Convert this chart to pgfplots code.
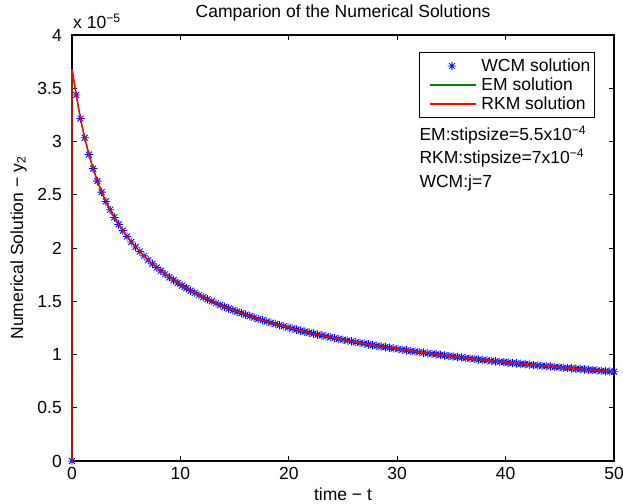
\documentclass[border=0pt]{standalone}
\usepackage{fontspec}
\setmainfont{Liberation Sans}
\usepackage{pgfplots}
\pgfplotsset{compat=1.18}
\usepackage{pgfplotstable}

\pgfdeclareplotmark{mstar}{%
 \pgfpathmoveto{\pgfqpoint{-\pgfplotmarksize}{0pt}}\pgfpathlineto{\pgfqpoint{\pgfplotmarksize}{0pt}}%
 \pgfpathmoveto{\pgfqpoint{0pt}{-\pgfplotmarksize}}\pgfpathlineto{\pgfqpoint{0pt}{\pgfplotmarksize}}%
 \pgfpathmoveto{\pgfqpoint{-0.7071\pgfplotmarksize}{-0.7071\pgfplotmarksize}}\pgfpathlineto{\pgfqpoint{0.7071\pgfplotmarksize}{0.7071\pgfplotmarksize}}%
 \pgfpathmoveto{\pgfqpoint{-0.7071\pgfplotmarksize}{0.7071\pgfplotmarksize}}\pgfpathlineto{\pgfqpoint{0.7071\pgfplotmarksize}{-0.7071\pgfplotmarksize}}%
 \pgfusepathqstroke}

\pgfplotsset{
  lineleg/.style={legend image code/.code={\path[draw=none,fill=none] (0pt,0pt) (52pt,0pt); \draw[##1, line width=1.2pt] (6pt,0pt) -- (52pt,0pt);}},
  markleg/.style={legend image code/.code={\path[draw=none,fill=none] (0pt,0pt) (52pt,0pt); \draw[##1] plot coordinates {(28pt,0pt)};}},
}

\pgfplotstableread{
t y
0 0
0.390625 3.437
0.78125 3.215
1.171875 3.035
1.5625 2.877
1.953125 2.745
2.34375 2.628
2.734375 2.525
3.125 2.437
3.515625 2.359
3.90625 2.287
4.296875 2.222
4.6875 2.163
5.078125 2.108
5.46875 2.057
5.859375 2.010
6.25 1.967
6.640625 1.926
7.03125 1.887
7.421875 1.851
7.8125 1.817
8.203125 1.785
8.59375 1.754
8.984375 1.725
9.375 1.698
9.765625 1.672
10.15625 1.647
10.546875 1.623
10.9375 1.600
11.328125 1.579
11.71875 1.558
12.109375 1.538
12.5 1.519
12.890625 1.500
13.28125 1.482
13.671875 1.465
14.0625 1.448
14.453125 1.432
14.84375 1.417
15.234375 1.402
15.625 1.388
16.015625 1.374
16.40625 1.360
16.796875 1.347
17.1875 1.334
17.578125 1.322
17.96875 1.310
18.359375 1.298
18.75 1.287
19.140625 1.275
19.53125 1.265
19.921875 1.254
20.3125 1.244
20.703125 1.234
21.09375 1.224
21.484375 1.215
21.875 1.205
22.265625 1.196
22.65625 1.187
23.046875 1.179
23.4375 1.170
23.828125 1.162
24.21875 1.154
24.609375 1.146
25 1.138
25.390625 1.131
25.78125 1.123
26.171875 1.116
26.5625 1.109
26.953125 1.102
27.34375 1.095
27.734375 1.088
28.125 1.082
28.515625 1.075
28.90625 1.069
29.296875 1.063
29.6875 1.057
30.078125 1.051
30.46875 1.045
30.859375 1.039
31.25 1.033
31.640625 1.028
32.03125 1.022
32.421875 1.017
32.8125 1.011
33.203125 1.006
33.59375 1.001
33.984375 0.996
34.375 0.991
34.765625 0.986
35.15625 0.981
35.546875 0.976
35.9375 0.972
36.328125 0.967
36.71875 0.962
37.109375 0.958
37.5 0.953
37.890625 0.949
38.28125 0.945
38.671875 0.940
39.0625 0.936
39.453125 0.932
39.84375 0.928
40.234375 0.924
40.625 0.920
41.015625 0.916
41.40625 0.912
41.796875 0.909
42.1875 0.905
42.578125 0.901
42.96875 0.897
43.359375 0.894
43.75 0.890
44.140625 0.887
44.53125 0.883
44.921875 0.880
45.3125 0.876
45.703125 0.873
46.09375 0.870
46.484375 0.866
46.875 0.863
47.265625 0.860
47.65625 0.857
48.046875 0.854
48.4375 0.851
48.828125 0.847
49.21875 0.844
49.609375 0.841
50 0.838
}\wcm

\pgfplotstableread{
t y
0 0
0 3.68
0.390625 3.437
0.78125 3.215
1.171875 3.035
1.5625 2.877
1.953125 2.745
2.34375 2.628
2.734375 2.525
3.125 2.437
3.515625 2.359
3.90625 2.287
4.296875 2.222
4.6875 2.163
5.078125 2.108
5.46875 2.057
5.859375 2.010
6.25 1.967
6.640625 1.926
7.03125 1.887
7.421875 1.851
7.8125 1.817
8.203125 1.785
8.59375 1.754
8.984375 1.725
9.375 1.698
9.765625 1.672
10.15625 1.647
10.546875 1.623
10.9375 1.600
11.328125 1.579
11.71875 1.558
12.109375 1.538
12.5 1.519
12.890625 1.500
13.28125 1.482
13.671875 1.465
14.0625 1.448
14.453125 1.432
14.84375 1.417
15.234375 1.402
15.625 1.388
16.015625 1.374
16.40625 1.360
16.796875 1.347
17.1875 1.334
17.578125 1.322
17.96875 1.310
18.359375 1.298
18.75 1.287
19.140625 1.275
19.53125 1.265
19.921875 1.254
20.3125 1.244
20.703125 1.234
21.09375 1.224
21.484375 1.215
21.875 1.205
22.265625 1.196
22.65625 1.187
23.046875 1.179
23.4375 1.170
23.828125 1.162
24.21875 1.154
24.609375 1.146
25 1.138
25.390625 1.131
25.78125 1.123
26.171875 1.116
26.5625 1.109
26.953125 1.102
27.34375 1.095
27.734375 1.088
28.125 1.082
28.515625 1.075
28.90625 1.069
29.296875 1.063
29.6875 1.057
30.078125 1.051
30.46875 1.045
30.859375 1.039
31.25 1.033
31.640625 1.028
32.03125 1.022
32.421875 1.017
32.8125 1.011
33.203125 1.006
33.59375 1.001
33.984375 0.996
34.375 0.991
34.765625 0.986
35.15625 0.981
35.546875 0.976
35.9375 0.972
36.328125 0.967
36.71875 0.962
37.109375 0.958
37.5 0.953
37.890625 0.949
38.28125 0.945
38.671875 0.940
39.0625 0.936
39.453125 0.932
39.84375 0.928
40.234375 0.924
40.625 0.920
41.015625 0.916
41.40625 0.912
41.796875 0.909
42.1875 0.905
42.578125 0.901
42.96875 0.897
43.359375 0.894
43.75 0.890
44.140625 0.887
44.53125 0.883
44.921875 0.880
45.3125 0.876
45.703125 0.873
46.09375 0.870
46.484375 0.866
46.875 0.863
47.265625 0.860
47.65625 0.857
48.046875 0.854
48.4375 0.851
48.828125 0.847
49.21875 0.844
49.609375 0.841
50 0.838
}\lines

\begin{document}
\fontsize{17.5}{21}\selectfont
\begin{tikzpicture}
\begin{axis}[
  name=ax,
  scale only axis,
  width=542pt, height=426pt,
  xmin=0, xmax=50, ymin=0, ymax=4,
  xtick={0,10,...,50},
  ytick={0,0.5,...,4},
  tick align=inside,
  major tick length=5pt,
  axis line style={line width=1.1pt},
  major tick style={line width=0.9pt, black},
  clip=false,
  clip marker paths=true,
  /pgf/number format/assume math mode=true,
  every tick label/.append style={font=\fontsize{17.5}{21}\selectfont},
  xticklabel style={anchor=north, inner sep=0pt, yshift=-6pt},
  yticklabel style={anchor=east, inner sep=0pt, xshift=-10pt},
  title={Camparion of the Numerical Solutions},
  title style={at={(rel axis cs:0.5,1)}, anchor=base, yshift=11.5pt, inner sep=0pt, font=\fontsize{17.5}{21}\selectfont},
  xlabel={time − t},
  xlabel style={at={(rel axis cs:0.5,0)}, anchor=base, yshift=-39pt, inner sep=0pt, font=\fontsize{17.5}{21}\selectfont},
  legend style={at={(rel axis cs:0.6409,0.9601)}, anchor=north west, draw=black, line width=1pt,
    inner xsep=4pt, inner ysep=4pt, row sep=0pt,
    font=\fontsize{17.5}{21}\selectfont,
    nodes={inner sep=0pt, text height=15pt, text depth=4pt},
    /tikz/every odd column/.append style={column sep=5pt}},
  legend cell align=left,
]
\addplot[only marks, mark=mstar, mark size=4.2pt, color=blue, mark options={line width=0.85pt}, markleg]
  table[x=t, y=y] {\wcm};
\addlegendentry{WCM solution}
\addplot[color={rgb,1:red,0;green,0.5;blue,0}, line width=1.3pt, no marks, lineleg]
  table[x=t, y=y] {\lines};
\addlegendentry{EM solution}
\addplot[color=red, line width=1.3pt, no marks, lineleg]
  table[x=t, y=y] {\lines};
\addlegendentry{RKM solution}
\node[anchor=base west, inner sep=0pt] at (rel axis cs:0,1) [yshift=6.7pt, xshift=1pt] {x 10\textsuperscript{−5}};
\node[anchor=base west, inner sep=0pt] at (rel axis cs:0.6409,0.7519) {EM:stipsize=5.5x10\textsuperscript{−4}};
\node[anchor=base west, inner sep=0pt] at (rel axis cs:0.6409,0.6972) {RKM:stipsize=7x10\textsuperscript{−4}};
\node[anchor=base west, inner sep=0pt] at (rel axis cs:0.6409,0.6425) {WCM:j=7};
\end{axis}
\node[rotate=90, anchor=base, inner sep=0pt] at ([xshift=-49pt]ax.west) {Numerical Solution − y\textsubscript{2}};
\pgfresetboundingbox
\path ([shift={(-72pt,-42pt)}]ax.south west) rectangle ([shift={(9pt,35pt)}]ax.north east);
\end{tikzpicture}
\end{document}
